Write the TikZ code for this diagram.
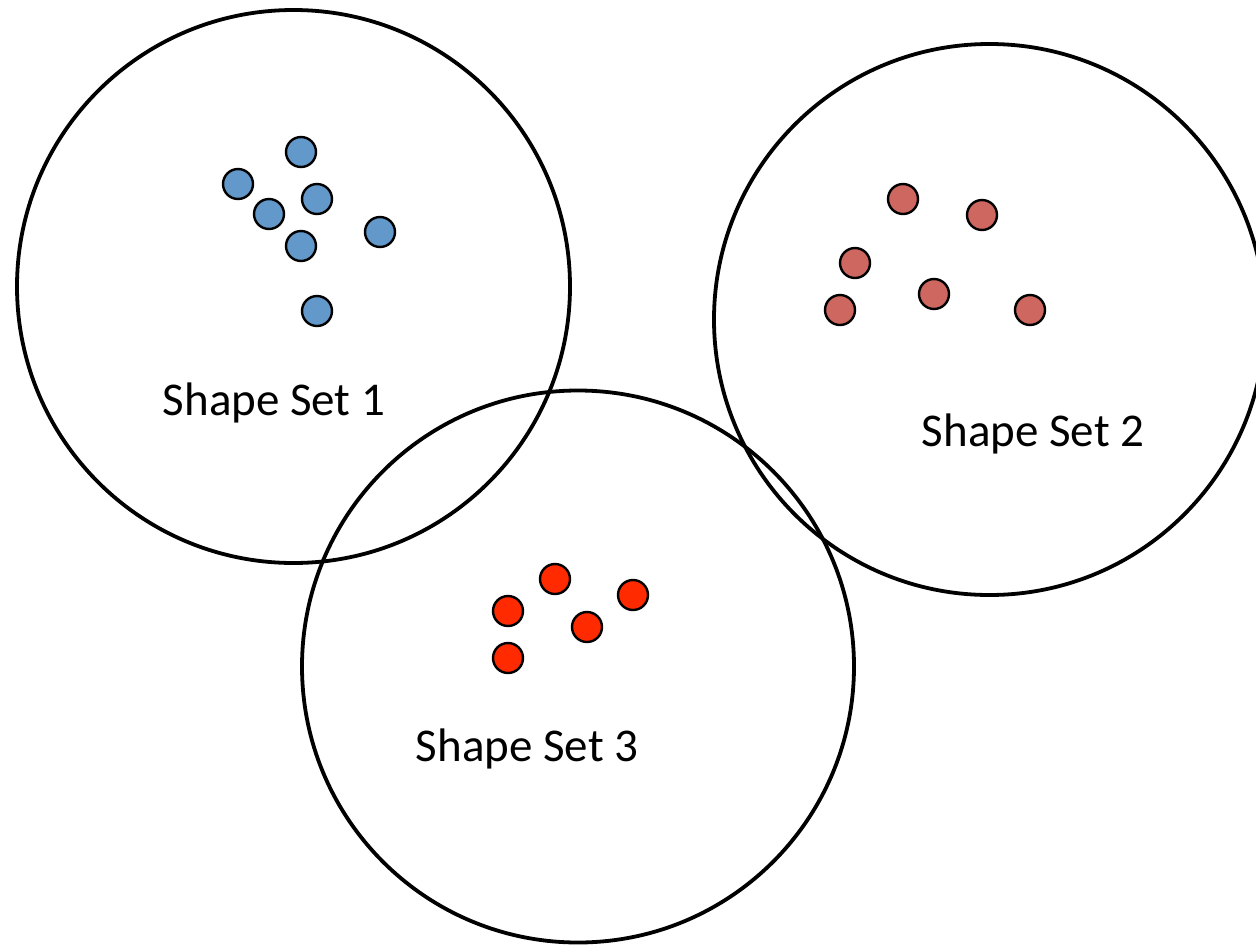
\documentclass[tikz,border=0pt]{standalone}
\usepackage{fontspec}
\setmainfont{Carlito}
\begin{document}
\begin{tikzpicture}[x=1pt,y=-1pt,
  setcircle/.style={draw=black,line width=3.8pt},
  dot/.style={circle,draw=black,line width=2.4pt,minimum size=30pt,inner sep=0pt},
  bluedot/.style={dot,fill=dotblue},
  pinkdot/.style={dot,fill=dotpink},
  reddot/.style={dot,fill=dotred},
  lbl/.style={inner sep=0pt,font=\fontsize{47}{56}\selectfont}]
\definecolor{dotblue}{HTML}{6298CA}
\definecolor{dotpink}{HTML}{CD675F}
\definecolor{dotred}{HTML}{FF2A00}
\useasboundingbox (0,0) rectangle (1256,946);
\clip (0,0) rectangle (1256,946);
\fill[white] (0,0) rectangle (1256,946);
\draw[setcircle] (293.5,286.5) circle[radius=276.5];
\draw[setcircle] (989.5,319.5) circle[radius=275.5];
\draw[setcircle] (578,666.5) circle[radius=276];
% set 1
\node[bluedot] (b1) at (301,152) {};
\node[bluedot] (b2) at (238,184) {};
\node[bluedot] (b3) at (317,199) {};
\node[bluedot] (b4) at (269,214) {};
\node[bluedot] (b5) at (380,232) {};
\node[bluedot] (b6) at (301,246) {};
\node[bluedot] (b7) at (317,311) {};
% set 2
\node[pinkdot] (p1) at (903,199) {};
\node[pinkdot] (p2) at (982,215) {};
\node[pinkdot] (p3) at (855,263) {};
\node[pinkdot] (p4) at (934,294) {};
\node[pinkdot] (p5) at (840,310) {};
\node[pinkdot] (p6) at (1030,310) {};
% set 3
\node[reddot] (r1) at (555,579) {};
\node[reddot] (r2) at (633,595) {};
\node[reddot] (r3) at (508,611) {};
\node[reddot] (r4) at (587,627) {};
\node[reddot] (r5) at (508,658) {};
\node[lbl] (l1) at (274,403) {Shape Set 1};
\node[lbl] (l2) at (1033,434) {Shape Set 2};
\node[lbl] (l3) at (527,749) {Shape Set 3};
\end{tikzpicture}
\end{document}
